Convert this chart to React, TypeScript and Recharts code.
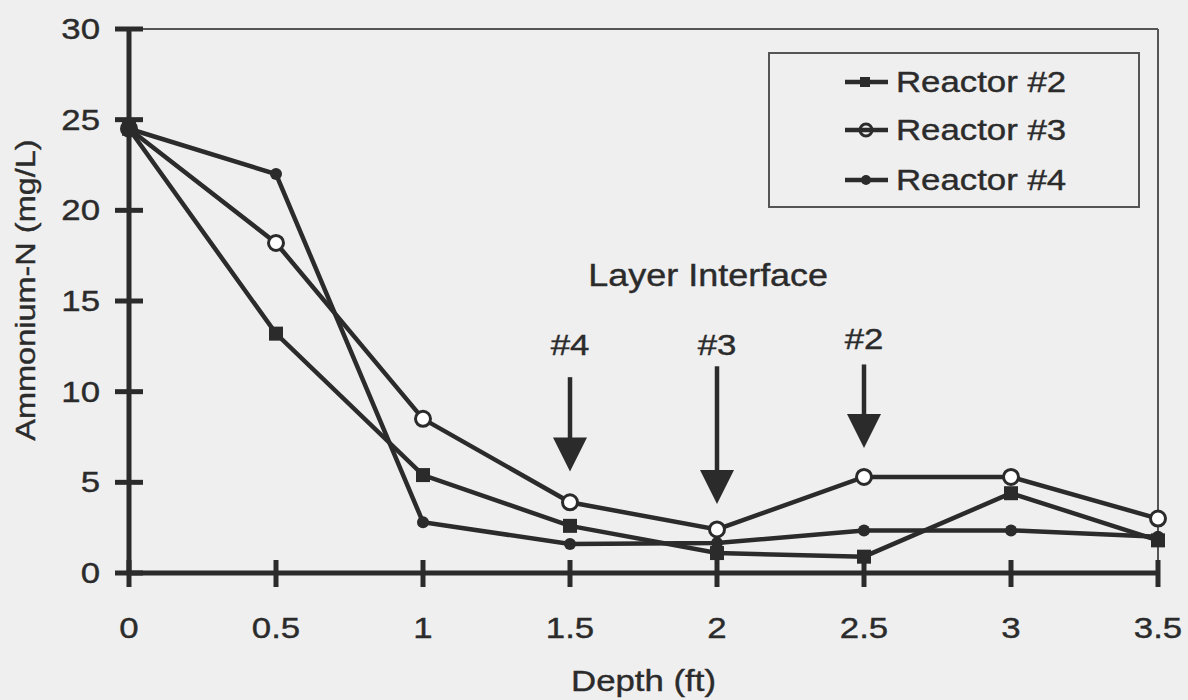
import { LineChart, Line, XAxis, YAxis, ReferenceLine, ReferenceDot, Legend } from "recharts";

const DEPTH = [0, 0.5, 1, 1.5, 2, 2.5, 3, 3.5];
const REACTOR_2 = [24.5, 13.2, 5.4, 2.6, 1.1, 0.9, 4.4, 1.8];
const REACTOR_3 = [24.5, 18.2, 8.5, 3.9, 2.4, 5.3, 5.3, 3.0];
const REACTOR_4 = [24.5, 22.0, 2.8, 1.6, 1.65, 2.35, 2.35, 2.0];

const X_TICKS = [0, 0.5, 1, 1.5, 2, 2.5, 3, 3.5];
const Y_TICKS = [0, 5, 10, 15, 20, 25, 30];

// layer interface arrows (data units)
const ARROW_X = [1.5, 2, 2.5];
const ARROW_TOP = [10.8, 11.4, 11.5];
const ARROW_TIP = [5.6, 3.8, 6.9];
const ARROW_LABEL = ["#4", "#3", "#2"];
const ARROW_LABEL_Y = [12.6, 12.6, 12.9];
const INTERFACE_TITLE = "Layer Interface";
const INTERFACE_TITLE_POS = { x: 1.97, y: 16.4 };

const INK = "#2b2b2b";
const BG = "#efefef";
const FONT = "'Liberation Sans', Arial, sans-serif";

const rows = DEPTH.map((d, i) => ({ depth: d, r2: REACTOR_2[i], r3: REACTOR_3[i], r4: REACTOR_4[i] }));

function SText({ x, y, size, anchor = "middle", rotate = 0, sx = 1.16, children }: any) {
  return (
    <text
      transform={`translate(${x},${y}) rotate(${rotate}) scale(${sx},1)`}
      textAnchor={anchor}
      dominantBaseline="central"
      fontSize={size}
      fontFamily={FONT}
      fill={INK}
      stroke={INK}
      strokeWidth={0.4}
    >
      {children}
    </text>
  );
}

function YTick({ x, y, payload }: any) {
  return (
    <g>
      <line x1={x - 14} x2={x + 14} y1={y} y2={y} stroke={INK} strokeWidth={5} />
      <SText x={x - 29} y={y} size={30} anchor="end">{payload.value}</SText>
    </g>
  );
}

function XTick({ x, y, payload }: any) {
  return (
    <g>
      <line x1={x} x2={x} y1={y - 13} y2={y + 14} stroke={INK} strokeWidth={5} />
      <SText x={x} y={y + 55} size={30}>{String(payload.value)}</SText>
    </g>
  );
}

const squareDot = ({ cx, cy, index }: any) => (
  <rect key={index} x={cx - 7} y={cy - 7} width={14} height={14} fill={INK} />
);
const openDot = ({ cx, cy, index }: any) => (
  <circle key={index} cx={cx} cy={cy} r={7.5} fill="#fff" stroke={INK} strokeWidth={3} />
);
const smallDot = ({ cx, cy, index }: any) => (
  <circle key={index} cx={cx} cy={cy} r={6} fill={INK} />
);

function Arrow({ x1, y1, x2, y2 }: any) {
  const head = 34;
  const half = 17;
  return (
    <g>
      <line x1={x1} x2={x2} y1={y1} y2={y2 - head + 2} stroke={INK} strokeWidth={4.5} />
      <polygon points={`${x2 - half},${y2 - head} ${x2 + half},${y2 - head} ${x2},${y2}`} fill={INK} />
    </g>
  );
}

const LEGEND_ITEMS = [
  { name: "Reactor #2", kind: "square" },
  { name: "Reactor #3", kind: "open" },
  { name: "Reactor #4", kind: "dot" },
];

function LegendBox() {
  const rowY = [30, 78, 128];
  return (
    <svg width={372} height={156} style={{ display: "block" }}>
      <rect x={1} y={1} width={370} height={154} fill="none" stroke="#555" strokeWidth={2} />
      {LEGEND_ITEMS.map((it, i) => (
        <g key={it.name}>
          <line x1={77} x2={120} y1={rowY[i]} y2={rowY[i]} stroke={INK} strokeWidth={4.5} />
          {it.kind === "square" && <rect x={92} y={rowY[i] - 5} width={10} height={10} fill={INK} />}
          {it.kind === "open" && <circle cx={98} cy={rowY[i]} r={6} fill="none" stroke={INK} strokeWidth={3} />}
          {it.kind === "dot" && <circle cx={98} cy={rowY[i]} r={5} fill={INK} />}
          <SText x={128} y={rowY[i]} size={29} anchor="start" sx={1.2}>{it.name}</SText>
        </g>
      ))}
    </svg>
  );
}

export default function App() {
  return (
    <div style={{ position: "absolute", left: 0, top: 0, width: 1188, height: 700, background: BG }}>
      <LineChart width={1188} height={700} data={rows} margin={{ top: 29, right: 30, bottom: 7, left: 0 }}>
        <XAxis
          dataKey="depth"
          type="number"
          domain={[0, 3.5]}
          ticks={X_TICKS}
          interval={0}
          height={120}
          tickSize={0}
          tickMargin={0}
          tickLine={false}
          tick={<XTick />}
          axisLine={{ stroke: INK, strokeWidth: 5 }}
          label={{
            content: ({ viewBox }: any) => (
              <SText x={viewBox.x + viewBox.width / 2} y={viewBox.y + 108} size={30}>Depth (ft)</SText>
            ),
          }}
        />
        <YAxis
          type="number"
          domain={[0, 30]}
          ticks={Y_TICKS}
          interval={0}
          width={129}
          tickSize={0}
          tickMargin={0}
          tickLine={false}
          tick={<YTick />}
          axisLine={{ stroke: INK, strokeWidth: 5 }}
          label={{
            content: ({ viewBox }: any) => (
              <SText x={25} y={viewBox.y + viewBox.height / 2 - 11} size={28} rotate={-90}>
                Ammonium-N (mg/L)
              </SText>
            ),
          }}
        />
        <ReferenceLine y={30} stroke="#555" strokeWidth={2} />
        <ReferenceLine x={3.5} stroke="#555" strokeWidth={2} />
        <Legend
          layout="vertical"
          align="center"
          verticalAlign="middle"
          wrapperStyle={{ left: 768, top: 52, width: 372, height: 156 }}
          content={() => <LegendBox />}
        />
        {ARROW_X.map((x, i) => (
          <ReferenceLine
            key={`arrow-${i}`}
            segment={[{ x, y: ARROW_TOP[i] }, { x, y: ARROW_TIP[i] }]}
            shape={(p: any) => <Arrow {...p} />}
          />
        ))}
        {ARROW_X.map((x, i) => (
          <ReferenceDot
            key={`lab-${i}`}
            x={x}
            y={ARROW_LABEL_Y[i]}
            r={0}
            shape={(p: any) => <SText x={p.cx} y={p.cy} size={30}>{ARROW_LABEL[i]}</SText>}
          />
        ))}
        <ReferenceDot
          x={INTERFACE_TITLE_POS.x}
          y={INTERFACE_TITLE_POS.y}
          r={0}
          shape={(p: any) => <SText x={p.cx} y={p.cy} size={31}>{INTERFACE_TITLE}</SText>}
        />
        <Line dataKey="r4" name="Reactor #4" type="linear" stroke={INK} strokeWidth={4.5} dot={smallDot} activeDot={false} isAnimationActive={false} />
        <Line dataKey="r3" name="Reactor #3" type="linear" stroke={INK} strokeWidth={4.5} dot={openDot} activeDot={false} isAnimationActive={false} />
        <Line dataKey="r2" name="Reactor #2" type="linear" stroke={INK} strokeWidth={4.5} dot={squareDot} activeDot={false} isAnimationActive={false} />
      </LineChart>
    </div>
  );
}
